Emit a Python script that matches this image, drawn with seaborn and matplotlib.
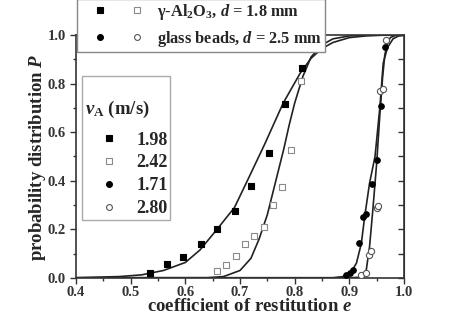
import numpy as np
import pandas as pd
import seaborn as sns
import matplotlib
matplotlib.use("Agg")
import matplotlib.pyplot as plt
from matplotlib.lines import Line2D
from matplotlib.legend_handler import HandlerTuple
from matplotlib.ticker import MultipleLocator

# measured points, e (coefficient of restitution) and P
al_198_e = [0.535, 0.566, 0.596, 0.628, 0.658, 0.691, 0.721, 0.753, 0.783, 0.813]
al_198_p = [0.021, 0.056, 0.087, 0.138, 0.200, 0.275, 0.380, 0.516, 0.717, 0.864]
al_242_e = [0.658, 0.675, 0.692, 0.709, 0.725, 0.743, 0.760, 0.777, 0.794, 0.811]
al_242_p = [0.029, 0.053, 0.090, 0.139, 0.174, 0.211, 0.300, 0.376, 0.526, 0.813]
gb_171_e = [0.894, 0.901, 0.907, 0.918, 0.925, 0.931, 0.941, 0.950, 0.958, 0.965]
gb_171_p = [0.012, 0.021, 0.032, 0.145, 0.250, 0.262, 0.386, 0.486, 0.708, 0.950]
gb_280_e = [0.922, 0.930, 0.936, 0.940, 0.950, 0.953, 0.957, 0.962, 0.967]
gb_280_p = [0.012, 0.021, 0.095, 0.110, 0.287, 0.296, 0.769, 0.777, 0.980]

# fitted curves
fit_198_e = [0.40, 0.48, 0.52, 0.56, 0.60, 0.627, 0.657, 0.69, 0.717, 0.745, 0.779, 0.81, 0.83, 0.85, 0.87, 0.90, 0.93, 0.96, 1.00]
fit_198_p = [0.0, 0.005, 0.012, 0.03, 0.063, 0.115, 0.197, 0.29, 0.417, 0.55, 0.72, 0.843, 0.905, 0.945, 0.97, 0.99, 0.997, 1.0, 1.0]
fit_242_e = [0.40, 0.64, 0.67, 0.70, 0.72, 0.735, 0.75, 0.76, 0.77, 0.78, 0.79, 0.80, 0.815, 0.83, 0.85, 0.87, 0.90, 0.93, 1.00]
fit_242_p = [0.0, 0.0, 0.005, 0.03, 0.08, 0.16, 0.26, 0.35, 0.44, 0.53, 0.63, 0.72, 0.83, 0.91, 0.96, 0.985, 0.997, 1.0, 1.0]
fit_171_e = [0.40, 0.87, 0.889, 0.905, 0.913, 0.922, 0.928, 0.937, 0.947, 0.956, 0.962, 0.97, 0.98, 0.99, 1.00]
fit_171_p = [0.0, 0.0, 0.005, 0.03, 0.06, 0.142, 0.25, 0.39, 0.50, 0.706, 0.885, 0.95, 0.985, 0.997, 1.0]
fit_280_e = [0.40, 0.90, 0.919, 0.931, 0.937, 0.943, 0.950, 0.956, 0.961, 0.965, 0.970, 0.975, 0.985, 1.00]
fit_280_p = [0.0, 0.0, 0.002, 0.032, 0.128, 0.28, 0.472, 0.678, 0.83, 0.92, 0.97, 0.99, 1.0, 1.0]

speeds = ["1.98", "2.42", "1.71", "2.80"]

sns.set_style("ticks")
plt.rcParams["font.family"] = ["Liberation Serif", "DejaVu Serif"]
plt.rcParams["font.weight"] = "bold"
plt.rcParams["mathtext.fontset"] = "custom"
plt.rcParams["mathtext.rm"] = "Liberation Serif:bold"
plt.rcParams["mathtext.it"] = "Liberation Serif:italic:bold"
plt.rcParams["mathtext.bf"] = "Liberation Serif:bold"

fig = plt.figure(figsize=(4.73, 3.2), dpi=100)
ax = fig.add_axes([0.1607, 0.132, 0.6934, 0.758])

fits = [(fit_198_e, fit_198_p), (fit_242_e, fit_242_p), (fit_171_e, fit_171_p), (fit_280_e, fit_280_p)]
for fe, fp in fits:
    sns.lineplot(x=fe, y=fp, ax=ax, color="#222222", lw=1.2, sort=False, estimator=None)

styles = [
    (al_198_e, al_198_p, "s", "black", "black", 14),
    (al_242_e, al_242_p, "s", "white", "#8a8a8a", 18),
    (gb_171_e, gb_171_p, "o", "black", "black", 16),
    (gb_280_e, gb_280_p, "o", "white", "#555555", 20),
]
for xe, yp, mk, fc, ec, sz in styles:
    df = pd.DataFrame({"e": xe, "P": yp})
    sns.scatterplot(data=df, x="e", y="P", ax=ax, marker=mk, s=sz,
                    facecolor=fc, edgecolor=ec, linewidth=0.8, zorder=3)

ax.set_xlim(0.4, 1.0)
ax.set_ylim(0.0, 1.0)
ax.xaxis.set_major_locator(MultipleLocator(0.1))
ax.xaxis.set_minor_locator(MultipleLocator(0.05))
ax.yaxis.set_major_locator(MultipleLocator(0.2))
ax.yaxis.set_minor_locator(MultipleLocator(0.1))
ax.tick_params(axis="both", which="both", direction="out", labelsize=10.5, width=1, colors="#333333", labelcolor="#333333")
ax.tick_params(axis="x", pad=2)
ax.tick_params(which="major", length=4)
ax.tick_params(which="minor", length=2.5)
for s in ax.spines.values():
    s.set_linewidth(1.2)
    s.set_color("#333333")
ax.set_xlabel("coefficient of restitution $e$", fontsize=13.5, fontweight="bold")
ax.set_ylabel("probability distribution $P$", fontsize=13.5, fontweight="bold")
ax.xaxis.set_label_coords(0.53, -0.084)
ax.yaxis.set_label_coords(-0.085, 0.496)

# right-side inward ticks
axr = ax.secondary_yaxis("right")
axr.yaxis.set_major_locator(MultipleLocator(0.1))
axr.tick_params(direction="in", length=4, labelright=False, width=1, colors="#333333")

# v_A legend inside the axes
vh = [Line2D([], [], ls="none", marker=mk, ms=4.2, mfc=fc, mec=ec, mew=0.8) for _, _, mk, fc, ec, _ in styles]
leg = ax.legend(vh, speeds, title="\n$v_\\mathrm{A}$ (m/s)", loc="upper left",
                bbox_to_anchor=(0.018, 0.832), borderaxespad=0, fontsize=13,
                title_fontsize=13.5, alignment="left", handlelength=2.7, handletextpad=0.15,
                labelspacing=0.32, borderpad=0.15, fancybox=False, framealpha=1)
leg.get_frame().set_edgecolor("#aaaaaa")
leg.get_frame().set_linewidth(1.0)
leg._legend_box.sep = 8.5

# material legend at the top
hs = [(vh[0], vh[1]), (vh[2], vh[3])]
labels = ["γ-Al$_2$O$_3$, $d$ = 1.8 mm", "glass beads, $d$ = 2.5 mm"]
leg2 = fig.legend(hs, labels, loc="lower left", bbox_to_anchor=(77 / 473, 1 - 52 / 320),
                  borderaxespad=0, fontsize=11.8, handlelength=4.66, handletextpad=0.02,
                  labelspacing=0.4, borderpad=0.2, fancybox=False, framealpha=1,
                  handler_map={tuple: HandlerTuple(ndivide=None, pad=-0.146)})
leg2.get_frame().set_edgecolor("#888888")
leg2.get_frame().set_linewidth(1.0)

fig.savefig("out.png", dpi=100)
